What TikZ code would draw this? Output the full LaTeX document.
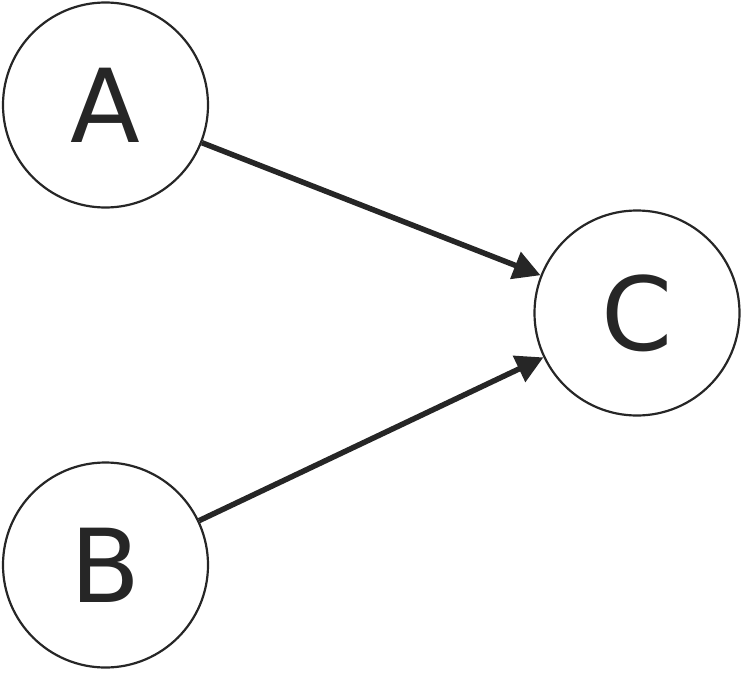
\documentclass[tikz,border=0pt]{standalone}
\usepackage{fontspec}
\setmainfont{DejaVu Sans}
\usetikzlibrary{arrows.meta}
\definecolor{ink}{HTML}{262626}
\begin{document}
\begin{tikzpicture}[x=1pt,y=1pt,
  vertex/.style={circle,draw=ink,line width=2.2pt,minimum size=205pt,inner sep=0pt,
    text=ink,font=\fontsize{102}{102}\selectfont},
  edge/.style={draw=ink,line width=5.5pt,-{Triangle[length=27pt,width=28pt]}}]
\useasboundingbox (0,0) rectangle (741,-685);
\node[vertex] (A) at (105.5,-105) {A};
\node[vertex] (B) at (105.5,-565) {B};
\node[vertex] (C) at (637,-313) {C};
\draw[edge] (A) -- (C);
\draw[edge] (B) -- (C);
\end{tikzpicture}
\end{document}
